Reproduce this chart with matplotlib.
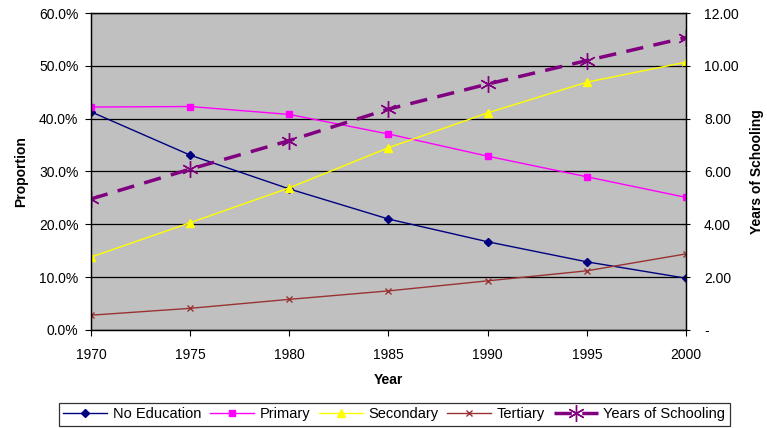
import matplotlib.pyplot as plt
from matplotlib.ticker import FuncFormatter

plt.rcParams['font.family'] = ['Liberation Sans', 'DejaVu Sans']

years = [1970, 1975, 1980, 1985, 1990, 1995, 2000]
no_education = [41.3, 33.1, 26.7, 21.0, 16.7, 12.9, 9.8]
primary = [42.2, 42.3, 40.8, 37.1, 32.9, 29.0, 25.1]
secondary = [13.8, 20.3, 26.9, 34.5, 41.1, 46.9, 50.7]
tertiary = [2.8, 4.1, 5.8, 7.4, 9.3, 11.2, 14.4]
years_schooling = [4.96, 6.09, 7.17, 8.36, 9.31, 10.20, 11.07]

fig = plt.figure(figsize=(7.67, 4.28), dpi=100)
ax = fig.add_axes([0.1186, 0.229, 0.7758, 0.7406])
ax.set_facecolor('#C0C0C0')

ax.plot(years, no_education, color='#000080', marker='D', markersize=4, lw=1, label='No Education')
ax.plot(years, primary, color='#FF00FF', marker='s', markersize=5, lw=1, label='Primary')
ax.plot(years, secondary, color='#FFFF00', marker='^', markersize=6, lw=1, label='Secondary')
ax.plot(years, tertiary, color='#993333', marker='x', markersize=5, lw=1, label='Tertiary')

ax.set_xlim(1970, 2000)
ax.set_ylim(0, 60)
ax.set_xticks(years)
ax.set_yticks(range(0, 61, 10))
ax.yaxis.set_major_formatter(FuncFormatter(lambda v, p: '%.1f%%' % v))
ax.grid(axis='y', color='black', lw=0.9)
ax.set_axisbelow(True)
ax.tick_params(axis='both', labelsize=10, length=4, color='black')
ax.tick_params(axis='x', pad=9)
ax.tick_params(axis='y', direction='out', pad=5)
ax.set_xlabel('Year', fontsize=10, fontweight='bold', labelpad=8)
ax.set_ylabel('Proportion', fontsize=10, fontweight='bold', labelpad=8)

ax2 = ax.twinx()
ax2.plot(years, years_schooling, color='#800080', marker=(6, 2, 0), markersize=12,
         markeredgewidth=1, lw=2.5, dashes=(5, 3), label='Years of Schooling')
ax2.set_ylim(0, 12)
ax2.set_yticks(range(0, 13, 2))
ax2.yaxis.set_major_formatter(FuncFormatter(lambda v, p: '-' if v == 0 else '%.2f' % v))
ax2.tick_params(axis='y', labelsize=10, direction='inout', length=6, color='black', pad=10)
ax2.set_ylabel('Years of Schooling', fontsize=10, fontweight='bold', labelpad=8)

for a in (ax, ax2):
    for s in a.spines.values():
        s.set_color('black')
        s.set_linewidth(0.9)

h1, l1 = ax.get_legend_handles_labels()
h2, l2 = ax2.get_legend_handles_labels()
leg = fig.legend(h1 + h2, l1 + l2, loc='center', bbox_to_anchor=(0.514, 0.032), ncol=5,
                 fontsize=10.5, frameon=True, fancybox=False, edgecolor='black',
                 handlelength=3.0, columnspacing=0.6, handletextpad=0.4,
                 borderpad=0.3)
leg.get_frame().set_linewidth(0.9)

fig.savefig('out.png', dpi=100)
